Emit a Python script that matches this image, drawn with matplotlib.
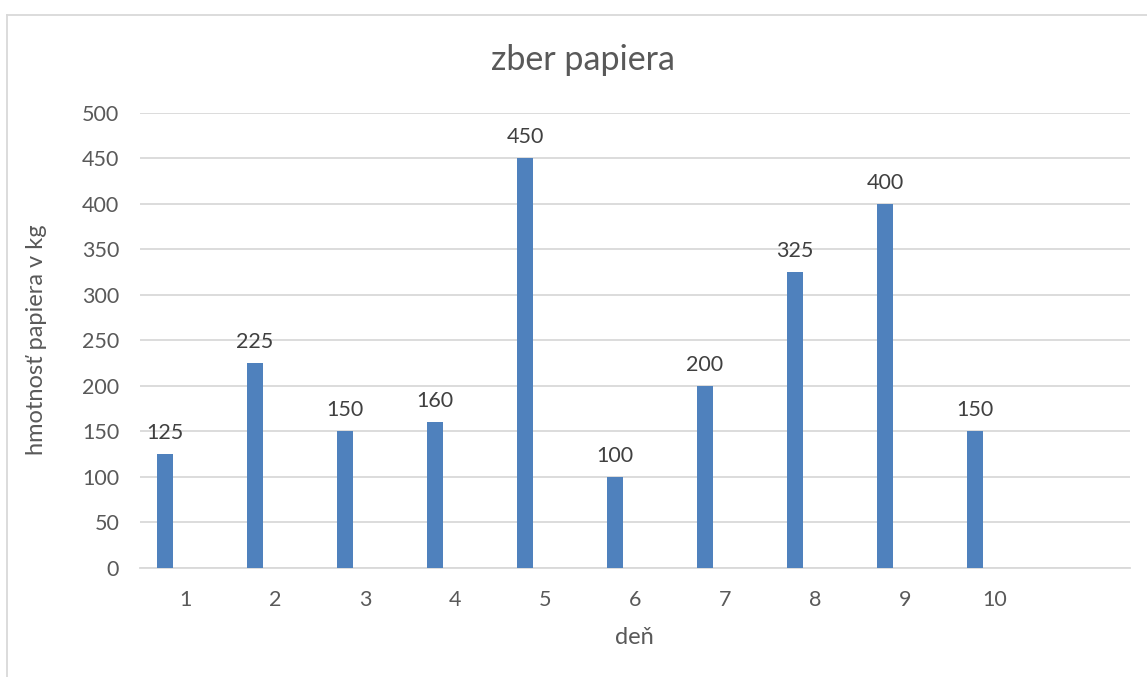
import matplotlib
matplotlib.use("Agg")
import matplotlib.pyplot as plt
from matplotlib.lines import Line2D

days = ["1", "2", "3", "4", "5", "6", "7", "8", "9", "10", ""]
values = [125, 225, 150, 160, 450, 100, 200, 325, 400, 150, None]
yticks = [0, 50, 100, 150, 200, 250, 300, 350, 400, 450, 500]

title = "zber papiera"
xlabel = "deň"
ylabel = "hmotnosť papiera v kg"

TXT = "#595959"
BAR = "#4F81BD"
GRID = "#D9D9D9"

plt.rcParams['font.family'] = ['Lato', 'DejaVu Sans']

W, H = 1147, 677
fig = plt.figure(figsize=(W / 100, H / 100), dpi=100)
ax = fig.add_axes([140 / W, 1 - 567.7 / H, 990 / W, (567.7 - 113) / H])

pos = list(range(1, len(days) + 1))
offset = -0.222
bw = 0.178
for p, v in zip(pos, values):
    if v is None:
        continue
    ax.bar(p + offset, v, width=bw, color=BAR, zorder=3)
    ax.annotate(str(v), (p + offset, v), xytext=(0, 8), textcoords="offset points",
                ha="center", va="bottom", fontsize=15.5, color="#404040")

ax.set_xlim(0.5, len(days) + 0.5)
ax.set_ylim(0, 500)
ax.set_xticks(pos)
ax.set_xticklabels(days)
ax.set_yticks(yticks)
ax.yaxis.grid(True, color=GRID, linewidth=1.3, zorder=0)
ax.set_axisbelow(True)
for s in ["left", "right", "top"]:
    ax.spines[s].set_visible(False)
ax.spines["bottom"].set_color(GRID)
ax.spines["bottom"].set_linewidth(1.3)
ax.tick_params(axis="both", length=0, labelsize=15.5, labelcolor=TXT)
ax.tick_params(axis="x", pad=16)
ax.tick_params(axis="y", pad=15)

fig.text(583 / W, 1 - 60 / H, title, ha="center", va="center", fontsize=24.5, color=TXT)
fig.text(634 / W, 1 - 638 / H, xlabel, ha="center", va="center", fontsize=17, color=TXT)
fig.text(37 / W, 1 - 340 / H, ylabel, ha="center", va="center", rotation=90, fontsize=17, color=TXT)

fig.add_artist(Line2D([7 / W, 7 / W], [0, 1 - 15 / H], transform=fig.transFigure, color=GRID, lw=1.3))
fig.add_artist(Line2D([7 / W, 1], [1 - 15 / H, 1 - 15 / H], transform=fig.transFigure, color=GRID, lw=1.3))

fig.savefig("out.png", dpi=100)
